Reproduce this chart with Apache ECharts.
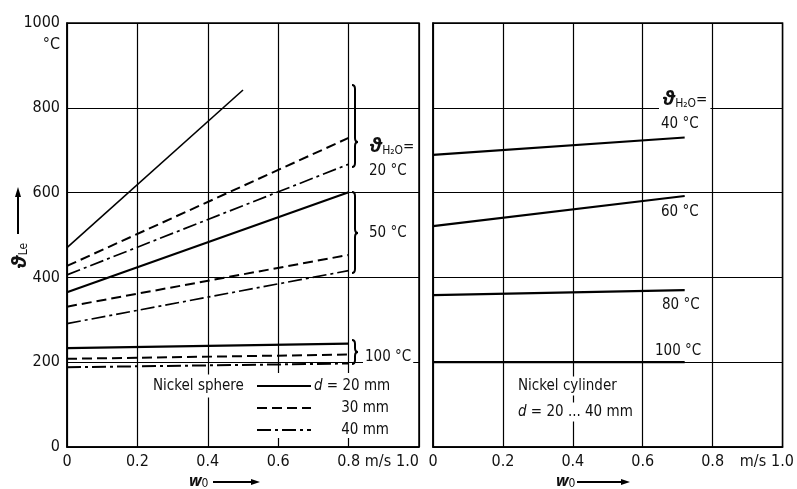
<!DOCTYPE html>
<html lang="en">
<head>
  <meta charset="UTF-8">
  <title>Nickel sphere / cylinder</title>
  <script src="https://cdn.jsdelivr.net/npm/echarts@6/dist/echarts.min.js"></script>
  <style>
    html, body { margin: 0; padding: 0; background: #fff; }
    #chart { width: 797px; height: 489px; }
  </style>
</head>
<body>
  <div id="chart"></div>
  <script>
    // tick labels
    var yTicks = [0, 200, 400, 600, 800, 1000];
    var xTicks = [0, 0.2, 0.4, 0.6, 0.8, 1.0];

    // nickel sphere, w0 end points
    var sphereW = [0, 0.8];
    var sphereW20short = [0, 0.5];
    // water 20 C
    var s20_d20 = [470, 842];
    var s20_d30 = [427, 729];
    var s20_d40 = [406, 667];
    // water 50 C
    var s50_d20 = [365, 601];
    var s50_d30 = [331, 453];
    var s50_d40 = [291, 416];
    // water 100 C
    var s100_d20 = [233, 244];
    var s100_d30 = [208, 218];
    var s100_d40 = [188, 197];

    // nickel cylinder d = 20...40 mm
    var cylW = [0, 0.72];
    var c40 = [689, 730];
    var c60 = [521, 592];
    var c80 = [358, 370];
    var c100 = [200, 200];

    var FONT = "'DejaVu Sans Condensed', 'Liberation Sans Narrow', 'DejaVu Sans', sans-serif";
    var THETA_FONT = "'Noto Sans', 'DejaVu Sans', serif";
    var FS = 16;   // tick labels
    var TS = 15;   // text inside the plots
    var DASH = [10, 5];
    var DASHDOT = [14, 4, 3, 4];

    function pts(xs, ys) {
      return xs.map(function (x, i) { return [x, ys[i]]; });
    }

    function line(name, xs, ys, type, width, axis) {
      return {
        name: name,
        type: 'line',
        xAxisIndex: axis,
        yAxisIndex: axis,
        data: pts(xs, ys),
        symbol: 'none',
        silent: true,
        lineStyle: { color: '#000', width: width, type: type }
      };
    }

    function xAxisCfg(idx) {
      return {
        type: 'value', gridIndex: idx, min: xTicks[0], max: xTicks[xTicks.length - 1], interval: 0.2,
        axisLine: { show: true, lineStyle: { color: '#000', width: 1.5 } },
        axisTick: { show: false },
        splitLine: { show: true, lineStyle: { color: '#000', width: 1.2 } },
        axisLabel: {
          color: '#111', fontFamily: FONT, fontSize: FS, margin: 7,
          alignMaxLabel: idx === 0 ? 'right' : 'center',
          formatter: function (v) { return v === 0 ? '0' : v.toFixed(1); }
        }
      };
    }

    function yAxisCfg(idx) {
      return {
        type: 'value', gridIndex: idx, min: yTicks[0], max: yTicks[yTicks.length - 1], interval: 200,
        axisLine: { show: true, lineStyle: { color: '#000', width: 1.5 } },
        axisTick: { show: false },
        splitLine: { show: true, lineStyle: { color: '#000', width: 1.2 } },
        axisLabel: {
          show: idx === 0, color: '#111', fontFamily: FONT, fontSize: FS, margin: 7,
          formatter: function (v) { return String(v); }
        }
      };
    }

    // curly brace opening to the left, tip pointing right
    function brace(x, y1, ym, y2) {
      var w = 3, r = 4;
      var st = { stroke: '#000', lineWidth: 2, fill: null };
      function bz(ax, ay, cx, cy, bx, by) {
        return { type: 'bezierCurve', shape: { x1: ax, y1: ay, cpx1: cx, cpy1: cy, x2: bx, y2: by }, style: st, z: 10 };
      }
      function ln(ax, ay, bx, by) {
        return { type: 'line', shape: { x1: ax, y1: ay, x2: bx, y2: by }, style: st, z: 10 };
      }
      return {
        type: 'group',
        children: [
          bz(x, y1, x + w, y1, x + w, y1 + r),
          ln(x + w, y1 + r, x + w, ym - r),
          bz(x + w, ym - r, x + w, ym, x + 2 * w, ym),
          bz(x + 2 * w, ym, x + w, ym, x + w, ym + r),
          ln(x + w, ym + r, x + w, y2 - r),
          bz(x + w, y2 - r, x + w, y2, x, y2)
        ]
      };
    }

    function txt(x, y, text, opts) {
      var s = {
        text: text, x: x, y: y, fill: '#111', font: TS + 'px ' + FONT,
        textAlign: 'left', textVerticalAlign: 'middle'
      };
      for (var k in (opts || {})) s[k] = opts[k];
      return { type: 'text', style: s, z: 20 };
    }

    // theta with subscript H2O
    function thetaH2O(x, y, bg) {
      return {
        type: 'text', z: 20,
        style: {
          x: x, y: y, textVerticalAlign: 'middle',
          text: '{t|ϑ}{s|H₂O}{e|=}',
          backgroundColor: bg ? '#fff' : null,
          padding: bg ? [0, 3, 0, 3] : 0,
          rich: {
            t: { font: 'italic bold 19px ' + THETA_FONT, fill: '#111' },
            s: { font: '12px ' + FONT, fill: '#111', padding: [8, 0, 0, 0] },
            e: { font: TS + 'px ' + FONT, fill: '#111' }
          }
        }
      };
    }

    function arrowRight(x1, x2, y) {
      return [
        { type: 'line', shape: { x1: x1, y1: y, x2: x2 - 6, y2: y }, style: { stroke: '#000', lineWidth: 1.8 }, z: 20 },
        { type: 'polygon', shape: { points: [[x2 - 9, y - 3], [x2, y], [x2 - 9, y + 3]] }, style: { fill: '#000' }, z: 20 }
      ];
    }

    function wLabel(x, y) {
      return {
        type: 'text', z: 20,
        style: {
          x: x, y: y, textVerticalAlign: 'middle',
          text: '{w|w}{s|0}',
          rich: {
            w: { font: 'italic bold 16px ' + THETA_FONT, fill: '#111' },
            s: { font: '12px ' + FONT, fill: '#111', padding: [6, 0, 0, 0] }
          }
        }
      };
    }

    function dLabel(x, y, rest) {
      return {
        type: 'text', z: 20,
        style: {
          x: x, y: y, textVerticalAlign: 'middle',
          text: '{i|d}{n|' + rest + '}',
          backgroundColor: '#fff',
          padding: [2, 3, 2, 3],
          rich: {
            i: { font: 'italic ' + TS + 'px ' + FONT, fill: '#111' },
            n: { font: TS + 'px ' + FONT, fill: '#111' }
          }
        }
      };
    }

    var chart = echarts.init(document.getElementById('chart'), null, { renderer: 'canvas' });

    var graphics = [
      // y axis unit and name
      txt(60, 45, '°C', { textAlign: 'right', font: FS + 'px ' + FONT }),
      { type: 'line', shape: { x1: 18, y1: 234, x2: 18, y2: 195 }, style: { stroke: '#000', lineWidth: 2 }, z: 20 },
      { type: 'polygon', shape: { points: [[15, 197], [18, 187], [21, 197]] }, style: { fill: '#000' }, z: 20 },
      {
        type: 'text', z: 20, rotation: Math.PI / 2, x: 20, y: 256,
        style: {
          x: 0, y: 0, textAlign: 'center', textVerticalAlign: 'middle',
          text: '{t|ϑ}{s|Le}',
          rich: {
            t: { font: 'italic bold 20px ' + THETA_FONT, fill: '#111' },
            s: { font: '12px ' + FONT, fill: '#111', padding: [8, 0, 0, 0] }
          }
        }
      },
      // m/s units
      txt(378, 462, 'm/s', { textAlign: 'center', font: FS + 'px ' + FONT }),
      txt(753, 462, 'm/s', { textAlign: 'center', font: FS + 'px ' + FONT }),
      wLabel(189, 481),
      wLabel(556, 481),

      // left panel: brace labels
      brace(352, 85, 142, 167),
      thetaH2O(369, 147, false),
      txt(369, 171, '20 °C'),
      brace(352, 192, 233, 273),
      txt(369, 233, '50 °C'),
      brace(352, 340, 352, 364),
      txt(363, 357, '100 °C', { backgroundColor: '#fff', padding: [2, 2, 2, 2] }),

      // legend of sphere curves
      { type: 'rect', shape: { x: 254, y: 373, width: 140, height: 65 }, style: { fill: '#fff' }, z: 15 },
      txt(150, 386, 'Nickel sphere', { backgroundColor: '#fff', padding: [4, 3, 4, 3] }),
      { type: 'line', shape: { x1: 257, y1: 386, x2: 311, y2: 386 }, style: { stroke: '#000', lineWidth: 2 }, z: 20 },
      { type: 'line', shape: { x1: 257, y1: 408, x2: 311, y2: 408 }, style: { stroke: '#000', lineWidth: 2, lineDash: DASH }, z: 20 },
      { type: 'line', shape: { x1: 257, y1: 430, x2: 311, y2: 430 }, style: { stroke: '#000', lineWidth: 2, lineDash: DASHDOT }, z: 20 },
      dLabel(311, 386, ' = 20 mm'),
      txt(389, 408, '30 mm', { textAlign: 'right' }),
      txt(389, 430, '40 mm', { textAlign: 'right' }),

      // right panel labels
      thetaH2O(659, 100, true),
      txt(661, 124, '40 °C'),
      txt(661, 212, '60 °C'),
      txt(662, 305, '80 °C'),
      txt(655, 351, '100 °C'),
      txt(515, 386, 'Nickel cylinder', { backgroundColor: '#fff', padding: [2, 3, 2, 3] }),
      dLabel(515, 412, ' = 20 ... 40 mm')
    ].concat(arrowRight(213, 260, 482)).concat(arrowRight(577, 630, 482));

    var option = {
      animation: false,
      backgroundColor: '#fff',
      grid: [
        { left: 67, top: 23, width: 352, height: 424, show: true, borderColor: '#000', borderWidth: 1.5 },
        { left: 433, top: 23, width: 355, height: 424, show: true, borderColor: '#000', borderWidth: 1.5 }
      ],
      xAxis: [xAxisCfg(0), xAxisCfg(1)],
      yAxis: [yAxisCfg(0), yAxisCfg(1)],
      series: [
        line('20C d20', sphereW20short, s20_d20, 'solid', 1.6, 0),
        line('20C d30', sphereW, s20_d30, DASH, 2, 0),
        line('20C d40', sphereW, s20_d40, DASHDOT, 1.7, 0),
        line('50C d20', sphereW, s50_d20, 'solid', 2.2, 0),
        line('50C d30', sphereW, s50_d30, DASH, 2, 0),
        line('50C d40', sphereW, s50_d40, DASHDOT, 1.7, 0),
        line('100C d20', sphereW, s100_d20, 'solid', 2.2, 0),
        line('100C d30', sphereW, s100_d30, DASH, 2, 0),
        line('100C d40', sphereW, s100_d40, DASHDOT, 2, 0),
        line('cyl 40C', cylW, c40, 'solid', 2.2, 1),
        line('cyl 60C', cylW, c60, 'solid', 2.2, 1),
        line('cyl 80C', cylW, c80, 'solid', 2.2, 1),
        line('cyl 100C', cylW, c100, 'solid', 2.2, 1)
      ],
      graphic: graphics
    };

    chart.setOption(option);
  </script>
</body>
</html>
